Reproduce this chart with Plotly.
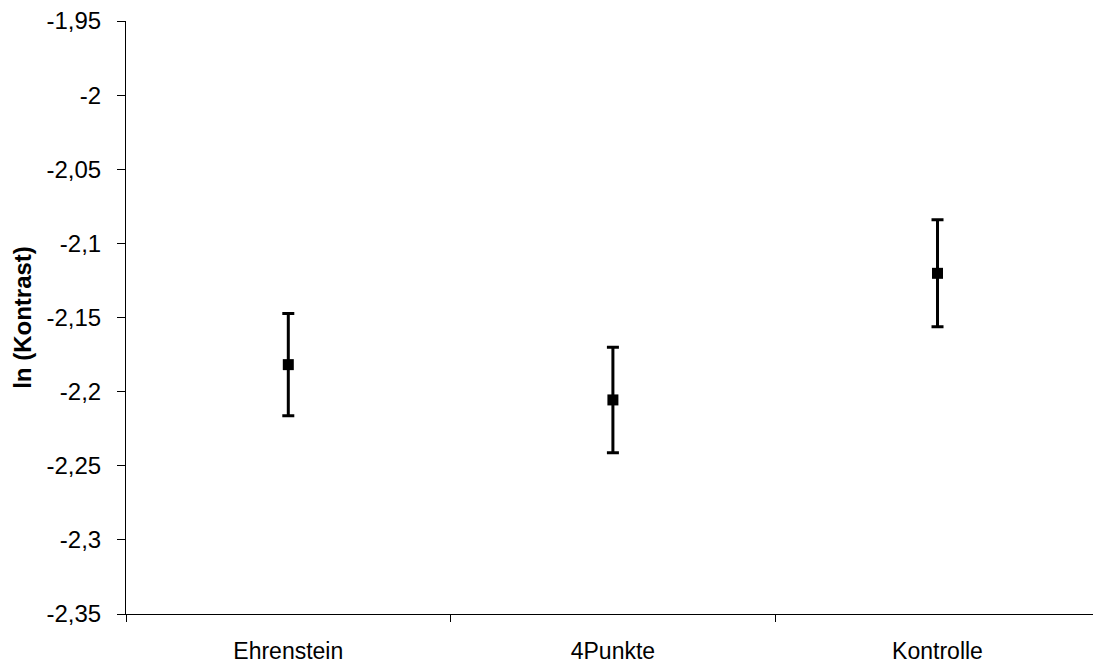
import plotly.graph_objects as go

categories = ["Ehrenstein", "4Punkte", "Kontrolle"]
means = [-2.1818, -2.2056, -2.1202]
errors = [0.0345, 0.0356, 0.0361]
ytick_vals = [-2.35, -2.30, -2.25, -2.20, -2.15, -2.10, -2.05, -2.00, -1.95]
ytick_text = ["-2,35", "-2,3", "-2,25", "-2,2", "-2,15", "-2,1", "-2,05", "-2", "-1,95"]

font = "Liberation Sans, Arial, sans-serif"

fig = go.Figure(go.Scatter(
    x=categories, y=means, mode="markers",
    marker=dict(symbol="square", size=11, color="black"),
    error_y=dict(type="data", array=errors, visible=True, color="black",
                 thickness=3, width=6),
    showlegend=False,
))

fig.update_layout(
    width=1093, height=663,
    margin=dict(l=126, r=0, t=21, b=49),
    paper_bgcolor="white", plot_bgcolor="white",
    font=dict(family=font, size=24, color="black"),
    xaxis=dict(
        type="category", range=[-0.5, 2.479], tickson="boundaries",
        ticks="outside", ticklen=7, tickcolor="black", tickwidth=1,
        showline=True, linecolor="black", linewidth=1, showgrid=False,
        zeroline=False, ticklabelstandoff=16, automargin=False,
        tickfont=dict(family=font, size=23, color="black"),
    ),
    yaxis=dict(
        range=[-2.35, -1.95], tickvals=ytick_vals, ticktext=ytick_text,
        ticks="outside", ticklen=8, tickcolor="black", tickwidth=1,
        showline=True, linecolor="black", linewidth=1, showgrid=False,
        zeroline=False, ticklabelstandoff=11, automargin=False,
        tickfont=dict(family=font, size=24, color="black"),
        title=dict(text="<b>ln (Kontrast)</b>", standoff=8,
                   font=dict(family=font, size=24, color="black")),
    ),
)

fig.write_html("out.html")
